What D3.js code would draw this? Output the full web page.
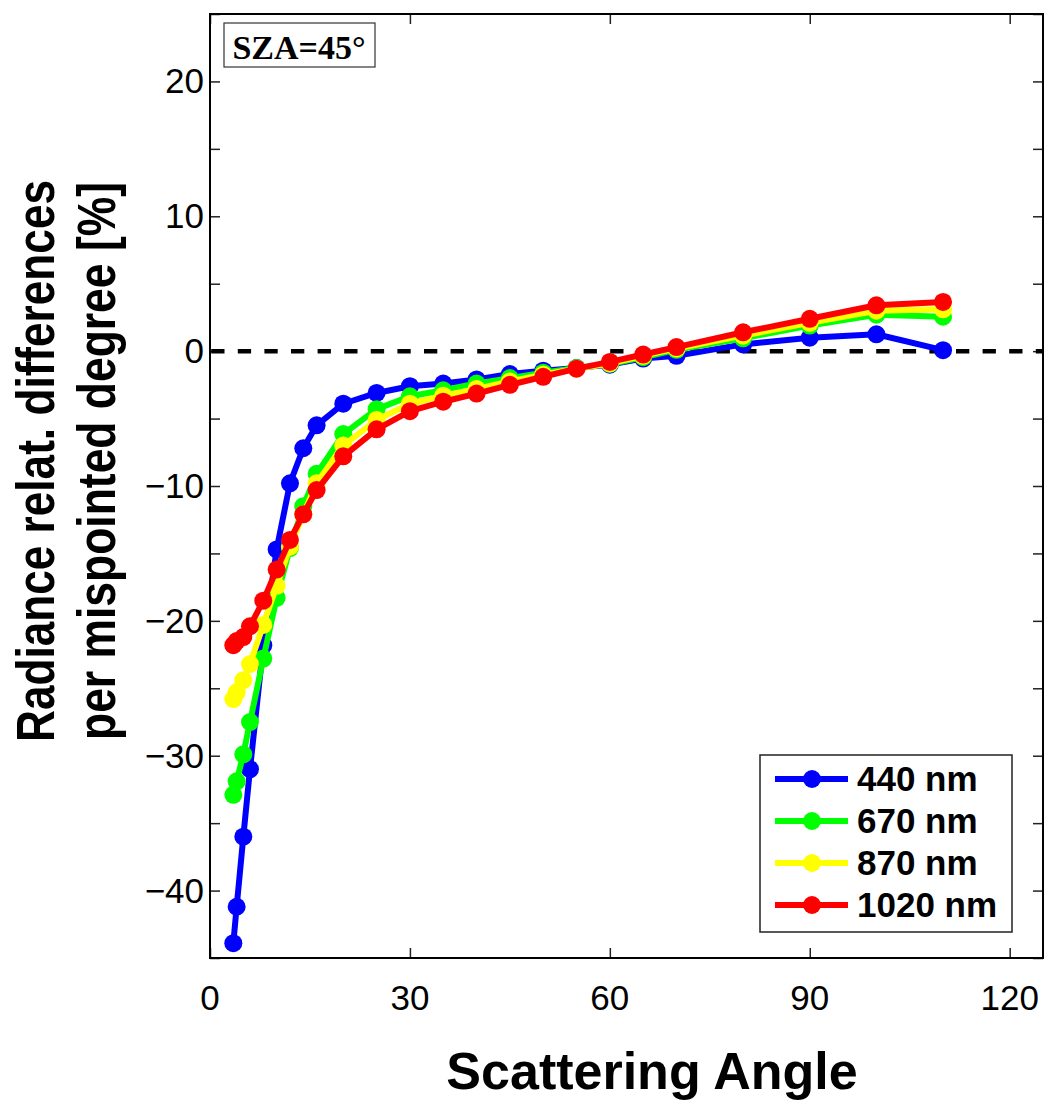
<!DOCTYPE html>
<html>
<head>
<meta charset="utf-8">
<script src="https://cdn.jsdelivr.net/npm/d3@7"></script>
<style>
  body { margin: 0; background: #fff; }
  svg { display: block; }
</style>
</head>
<body>
<svg id="chart" width="1047" height="1103"></svg>
<script>
// scattering angles (deg) and relative radiance differences (%) per wavelength
var angles = [3.5, 4, 5, 6, 8, 10, 12, 14, 16, 20, 25, 30, 35, 40, 45, 50, 55, 60, 65, 70, 80, 90, 100, 110];
var diff440 = [-43.9, -41.2, -36.0, -31.0, -21.8, -14.7, -9.8, -7.2, -5.5, -3.9, -3.1, -2.6, -2.4, -2.1, -1.7, -1.45, -1.25, -1.0, -0.55, -0.35, 0.5, 1.0, 1.25, 0.07];
var diff670 = [-32.9, -31.9, -29.9, -27.5, -22.8, -18.3, -14.6, -11.5, -9.1, -6.15, -4.3, -3.35, -2.9, -2.4, -2.0, -1.6, -1.25, -0.95, -0.45, 0.1, 0.95, 1.9, 2.7, 2.55];
var diff870 = [-25.8, -25.3, -24.4, -23.2, -20.3, -17.4, -14.5, -12.1, -9.8, -7.0, -5.1, -3.9, -3.3, -2.8, -2.25, -1.75, -1.3, -0.9, -0.35, 0.2, 1.15, 2.1, 3.0, 3.1];
var diff1020 = [-21.8, -21.5, -21.2, -20.4, -18.5, -16.2, -14.0, -12.1, -10.3, -7.8, -5.8, -4.45, -3.75, -3.15, -2.5, -1.9, -1.3, -0.8, -0.25, 0.3, 1.4, 2.4, 3.4, 3.65];

var seriesNames = ["440 nm", "670 nm", "870 nm", "1020 nm"];
var seriesColors = ["#0000ff", "#00ff00", "#ffff00", "#ff0000"];
var seriesValues = [diff440, diff670, diff870, diff1020];

var xTicks = [0, 30, 60, 90, 120];
var yTicks = [-45, -40, -35, -30, -25, -20, -15, -10, -5, 0, 5, 10, 15, 20, 25];
var yLabels = [-40, -30, -20, -10, 0, 10, 20];

var margin = {top: 14, right: 4, bottom: 145, left: 210},
    width = 1047 - margin.left - margin.right,
    height = 1103 - margin.top - margin.bottom;

var svg = d3.select("#chart");
var g = svg.append("g").attr("transform", "translate(" + margin.left + "," + margin.top + ")");

var x = d3.scaleLinear().domain([0, 125]).range([0, width]);
var y = d3.scaleLinear().domain([-45, 25]).range([height, 0]);

var tickFont = "'Liberation Sans', Arial, Helvetica, sans-serif";

// inward ticks on all four sides
var tickLen = 10;
g.append("g").call(d3.axisBottom(x).tickValues(xTicks).tickSize(-tickLen).tickFormat(""))
  .attr("transform", "translate(0," + height + ")");
g.append("g").call(d3.axisTop(x).tickValues(xTicks).tickSize(-tickLen).tickFormat(""));
g.append("g").call(d3.axisLeft(y).tickValues(yTicks).tickSize(-tickLen).tickFormat(""));
g.append("g").call(d3.axisRight(y).tickValues(yTicks).tickSize(-tickLen).tickFormat(""))
  .attr("transform", "translate(" + width + ",0)");
g.selectAll(".domain").remove();
g.selectAll(".tick line").attr("stroke", "#222").attr("stroke-width", 1.5);

// tick labels
g.append("g").selectAll("text").data(xTicks).enter().append("text")
  .attr("x", function(d) { return x(d); })
  .attr("y", height + 52)
  .attr("text-anchor", "middle")
  .style("font-family", tickFont).style("font-size", "35px")
  .text(function(d) { return d; });

g.append("g").selectAll("text").data(yLabels).enter().append("text")
  .attr("x", -6)
  .attr("y", function(d) { return y(d) + 12; })
  .attr("text-anchor", "end")
  .style("font-family", tickFont).style("font-size", "35px")
  .text(function(d) { return d < 0 ? "\u2212" + Math.abs(d) : d; });

// zero reference line
g.append("line")
  .attr("x1", x(0)).attr("x2", x(125))
  .attr("y1", y(0)).attr("y2", y(0))
  .attr("stroke", "#000").attr("stroke-width", 4.5)
  .attr("stroke-dasharray", "13.3,13.3")
  .attr("stroke-dashoffset", 25.4);

// series
var line = d3.line()
  .x(function(d) { return x(d[0]); })
  .y(function(d) { return y(d[1]); });

for (var s = 0; s < seriesValues.length; s++) {
  var pts = angles.map(function(a, i) { return [a, seriesValues[s][i]]; });
  var sg = g.append("g");
  sg.append("path").datum(pts)
    .attr("d", line)
    .attr("fill", "none")
    .attr("stroke", seriesColors[s])
    .attr("stroke-width", 6)
    .attr("stroke-linejoin", "round");
  sg.selectAll("circle").data(pts).enter().append("circle")
    .attr("cx", function(d) { return x(d[0]); })
    .attr("cy", function(d) { return y(d[1]); })
    .attr("r", 9)
    .attr("fill", seriesColors[s]);
}

// frame
g.append("rect")
  .attr("width", width).attr("height", height)
  .attr("fill", "none").attr("stroke", "#000").attr("stroke-width", 2);

// SZA label box
g.append("rect")
  .attr("x", 14).attr("y", 9).attr("width", 151).attr("height", 44)
  .attr("fill", "#fff").attr("stroke", "#333").attr("stroke-width", 1.2);
g.append("text")
  .attr("x", 89).attr("y", 45)
  .attr("text-anchor", "middle")
  .style("font-family", "'Liberation Serif', 'Times New Roman', serif")
  .style("font-weight", "bold").style("font-size", "34px")
  .text("SZA=45\u00b0");

// legend
var lg = g.append("g").attr("transform", "translate(" + (760 - margin.left) + "," + (755 - margin.top) + ")");
lg.append("rect")
  .attr("width", 252).attr("height", 177)
  .attr("fill", "#fff").attr("stroke", "#222").attr("stroke-width", 1.5);
seriesNames.forEach(function(name, i) {
  var yy = 24 + i * 42;
  lg.append("line")
    .attr("x1", 15).attr("x2", 88).attr("y1", yy).attr("y2", yy)
    .attr("stroke", seriesColors[i]).attr("stroke-width", 6);
  lg.append("circle").attr("cx", 52).attr("cy", yy).attr("r", 9).attr("fill", seriesColors[i]);
  lg.append("text")
    .attr("x", 97).attr("y", yy + 12)
    .style("font-family", tickFont).style("font-weight", "bold").style("font-size", "35px")
    .text(name);
});

// axis titles
svg.append("text")
  .attr("x", 652).attr("y", 1089)
  .attr("text-anchor", "middle")
  .style("font-family", tickFont).style("font-weight", "bold").style("font-size", "52px")
  .text("Scattering Angle");

var yTitle = svg.append("text")
  .attr("transform", "translate(0,461) rotate(-90)")
  .attr("text-anchor", "middle")
  .style("font-family", tickFont).style("font-weight", "bold").style("font-size", "53px");
yTitle.append("tspan").attr("x", 0).attr("y", 54)
  .attr("textLength", 562).attr("lengthAdjust", "spacingAndGlyphs")
  .text("Radiance relat. differences");
yTitle.append("tspan").attr("x", 0).attr("y", 115)
  .attr("textLength", 558).attr("lengthAdjust", "spacingAndGlyphs")
  .text("per mispointed degree [%]");
</script>
</body>
</html>
